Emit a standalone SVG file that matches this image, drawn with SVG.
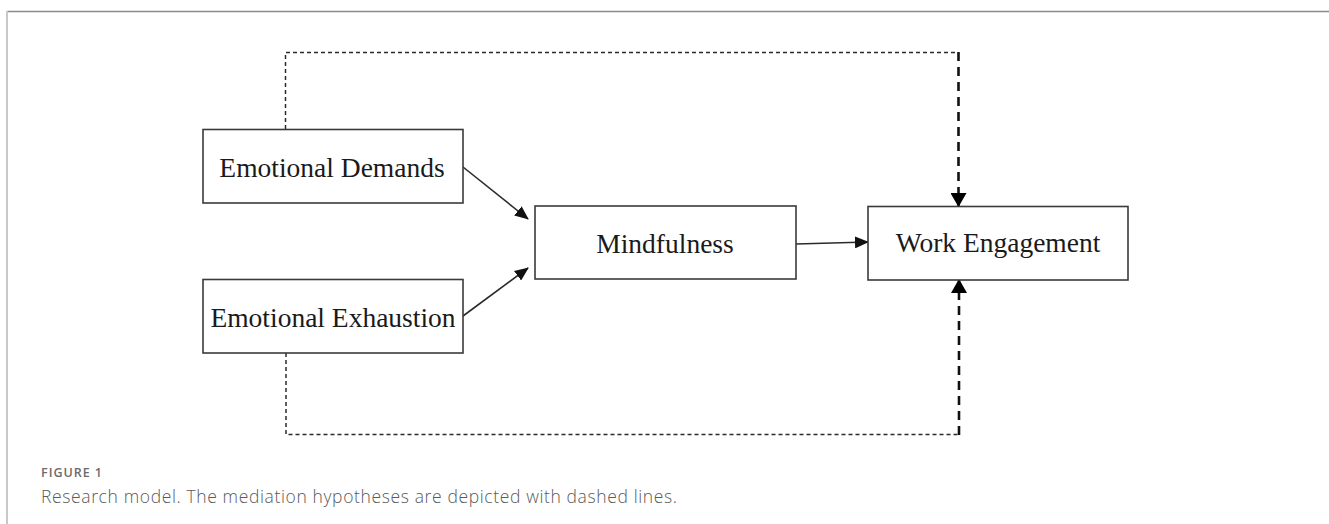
<svg xmlns="http://www.w3.org/2000/svg" width="1329" height="524" viewBox="0 0 1329 524">
  <style>
    .box { fill: #ffffff; stroke: #3a3a3a; stroke-width: 1.6; }
    .label { font-family: "Liberation Serif", "Times New Roman", serif; font-size: 27.5px; fill: #1a1a1a; text-anchor: middle; }
    .solid { fill: none; stroke: #2b2b2b; stroke-width: 1.6; }
    .thin-dash { fill: none; stroke: #2b2b2b; stroke-width: 1.5; stroke-dasharray: 4 3; }
    .thick-dash { fill: none; stroke: #111111; stroke-width: 2.6; stroke-dasharray: 9 6; }
    .cap-head { font-family: "Open Sans", "Liberation Sans", sans-serif; font-size: 12.5px; font-weight: 600; fill: #6b6b6b; }
    .cap-text { font-family: "Open Sans", "Liberation Sans", sans-serif; font-size: 17.5px; font-weight: 300; fill: #5a5a5a; }
  </style>
  <defs>
    <marker id="head" markerUnits="userSpaceOnUse" markerWidth="14" markerHeight="12" viewBox="0 0 14 12" refX="13" refY="6" orient="auto">
      <path d="M0,0 L14,6 L0,12 Z" fill="#111111"/>
    </marker>
    <marker id="head-big" markerUnits="userSpaceOnUse" markerWidth="14" markerHeight="16" viewBox="0 0 14 16" refX="13" refY="8" orient="auto">
      <path d="M0,0 L14,8 L0,16 Z" fill="#000000"/>
    </marker>
  </defs>

  <rect width="1329" height="524" fill="#ffffff"/>

  <!-- panel frame -->
  <g id="frame">
    <line x1="7" y1="11.5" x2="1329" y2="11.5" stroke="#8a8a8a" stroke-width="1.5"/>
    <line x1="7" y1="11" x2="7" y2="524" stroke="#c8c8c8" stroke-width="2"/>
  </g>

  <!-- connectors -->
  <g id="connectors">
    <line class="solid" x1="463" y1="167" x2="528" y2="219" marker-end="url(#head)"/>
    <line class="solid" x1="463" y1="316" x2="528" y2="268" marker-end="url(#head)"/>
    <line class="solid" x1="796" y1="244" x2="868" y2="242" marker-end="url(#head)"/>

    <polyline class="thin-dash" points="285.5,129 285.5,52.5 958,52.5"/>
    <line class="thick-dash" x1="958.5" y1="52" x2="958.5" y2="206" marker-end="url(#head-big)"/>

    <polyline class="thin-dash" points="286,353 286,434.5 959,434.5"/>
    <line class="thick-dash" x1="959" y1="435" x2="959" y2="280" marker-end="url(#head-big)"/>
  </g>

  <!-- nodes -->
  <g id="emotional-demands">
    <rect class="box" x="203" y="129.5" width="260" height="73.5"/>
    <text class="label" x="332" y="177">Emotional Demands</text>
  </g>
  <g id="emotional-exhaustion">
    <rect class="box" x="203" y="279.5" width="260" height="73.5"/>
    <text class="label" x="333" y="327">Emotional Exhaustion</text>
  </g>
  <g id="mindfulness">
    <rect class="box" x="535" y="206" width="261" height="73"/>
    <text class="label" x="665" y="253">Mindfulness</text>
  </g>
  <g id="work-engagement">
    <rect class="box" x="868" y="206.5" width="260" height="73.5"/>
    <text class="label" x="998" y="252">Work Engagement</text>
  </g>

  <!-- caption -->
  <g id="caption">
    <text class="cap-head" x="41" y="477" textLength="61" lengthAdjust="spacing">FIGURE 1</text>
    <text class="cap-text" x="41" y="503" textLength="636" lengthAdjust="spacing">Research model. The mediation hypotheses are depicted with dashed lines.</text>
  </g>
</svg>
